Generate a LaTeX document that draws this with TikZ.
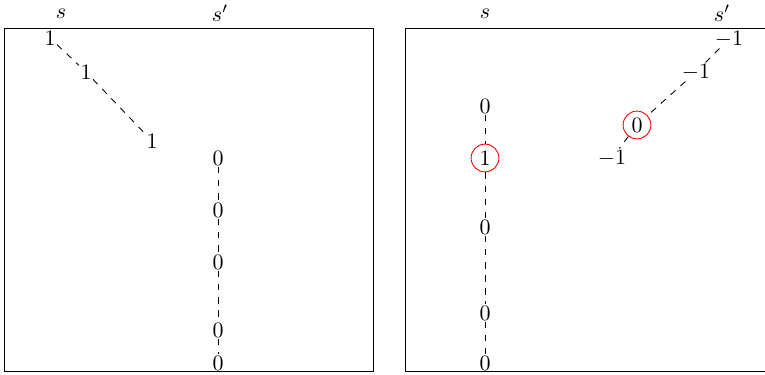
\documentclass[tikz,border=0pt]{standalone}
\begin{document}
\begin{tikzpicture}[x=0.016cm,y=-0.016cm,
    val/.style={inner sep=0.5pt},
    head/.style={inner sep=1pt},
    picked/.style={circle,draw=red,inner sep=1.6pt}]
  \useasboundingbox (0,0) rectangle (765,374);
  % left box
  \draw (4,28) rectangle (373,371);
  \node[head] (ls) at (61,14) {$s$};
  \node[head] (lsp) at (220,13) {$s'$};
  \node[val] (a1) at (50,38) {$1$};
  \node[val] (a2) at (86,72) {$1$};
  \node[val] (a3) at (152,141) {$1$};
  \draw[dashed] (a1) -- (a2) -- (a3);
  \foreach \n/\y in {1/158,2/210,3/262,4/330,5/363}
    \node[val] (b\n) at (218,\y) {$0$};
  \draw[dashed] (b1) -- (b2) -- (b3) -- (b4) -- (b5);
  % right box
  \draw (405,28) rectangle (775,371);
  \node[head] (rs) at (485,14) {$s$};
  \node[head] (rsp) at (722,13) {$s'$};
  \node[val] (c1) at (485,106) {$0$};
  \node[picked] (c2) at (485,158) {$1$};
  \node[val] (c3) at (485,227) {$0$};
  \node[val] (c4) at (485,313) {$0$};
  \node[val] (c5) at (485,363) {$0$};
  \draw[dashed] (c1) -- (c2) -- (c3) -- (c4) -- (c5);
  \node[val] (d1) at (729,39) {$-1$};
  \node[val] (d2) at (696,72) {$-1$};
  \node[picked] (d3) at (637,125) {$0$};
  \node[val] (d4) at (612,158) {$-1$};
  \draw[dashed] (d1) -- (d2) -- (d3) -- (d4);
\end{tikzpicture}
\end{document}
